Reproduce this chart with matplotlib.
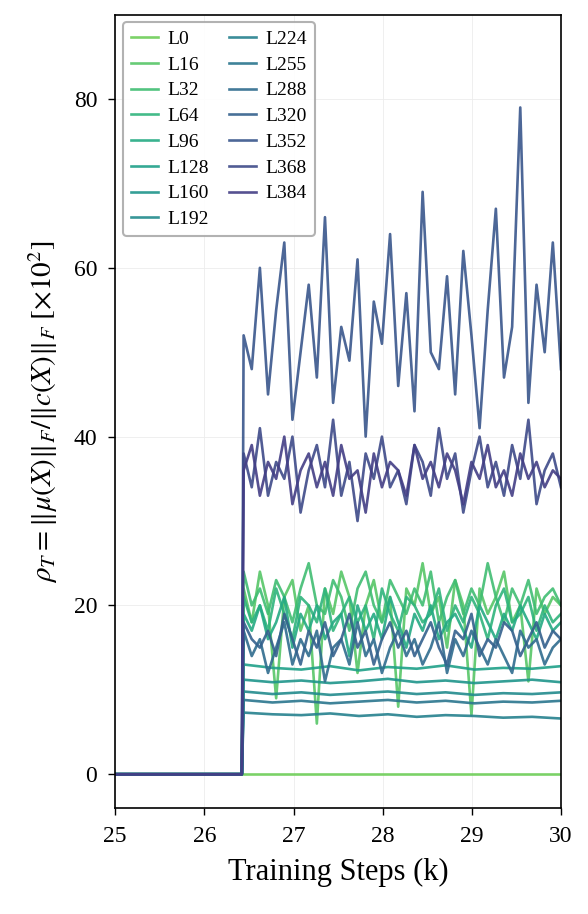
import numpy as np
import matplotlib
matplotlib.use("Agg")
import matplotlib.pyplot as plt

plt.rcParams['font.family'] = ['Liberation Serif', 'DejaVu Serif']
plt.rcParams['mathtext.fontset'] = 'stix'

step_x = 26.42
x_start = 25.0
x_end = 30.0

L0 = [0,0,0,0,0,0,0,0]
L16 = [22,18,24,20,9,21,23,17,20,6,22,19,24,21,12,20,23,18,21,8,22,20,25,19,21,15,23,20,7,22,19,21,24,18,20,11,22,19,21,20]
L32 = [24,20,22,19,23,21,18,22,25,20,19,23,21,17,22,24,20,18,23,21,19,22,20,24,18,21,23,19,22,20,25,21,18,22,20,23,19,21,22,20]
L64 = [21,18,20,17,22,19,16,21,20,18,22,17,19,21,18,20,16,22,19,17,21,20,18,19,22,17,20,18,21,19,16,20,22,18,19,21,17,20,18,19]
L96 = [19,17,20,16,18,21,15,19,17,20,16,18,19,14,20,17,19,16,21,18,15,19,17,20,16,18,19,17,15,20,18,16,19,17,20,18,16,19,17,18]
L128 = [13,12.6,12.4,12.8,12.3,12.7,12.5,12.9,12.4,12.6,12.5,12.8]
L160 = [11.2,10.9,11.1,10.8,11.0,11.3,10.9,11.1,10.8,11.0,11.2,10.9]
L192 = [9.8,9.5,9.7,9.4,9.6,9.8,9.5,9.7,9.4,9.6,9.5,9.7]
L224 = [7.3,7.1,7.0,7.2,6.9,7.1,6.8,7.0,6.9,6.7,6.8,6.6]
L255 = [8.8,8.5,8.7,8.4,8.6,8.8,8.5,8.7,8.4,8.6,8.5,8.7]
L288 = [17,14,16,12,15,18,13,16,14,17,11,15,16,13,18,14,16,12,15,17,14,16,13,15,18,12,16,14,17,15,13,16,14,12,17,15,16,13,15,16]
L320 = [18,16,15,17,14,19,16,13,17,15,18,14,16,19,15,17,13,16,18,15,17,14,16,18,15,13,17,16,19,14,16,15,18,17,14,16,18,15,17,16]
L352 = [52,48,60,45,55,63,42,50,58,47,66,44,53,49,61,40,56,51,64,46,57,43,69,50,48,59,45,62,52,41,55,67,47,53,79,44,58,50,63,48]
L368 = [38,34,41,33,37,35,40,31,36,39,34,42,33,37,30,38,35,40,34,36,32,39,37,33,41,35,38,31,36,40,34,37,33,39,35,42,32,36,38,34]
L384 = [36,39,33,37,35,40,32,36,38,34,37,33,39,35,36,31,38,34,37,36,33,39,35,37,34,38,36,32,37,35,39,34,36,33,38,35,37,34,36,35]

series = [L0,L16,L32,L64,L96,L128,L160,L192,L224,L255,L288,L320,L352,L368,L384]
labels_all = ["L0","L16","L32","L64","L96","L128","L160","L192","L224","L255","L288","L320","L352","L368","L384"]

fig = plt.figure(figsize=(5.88, 9.14), dpi=100)
ax = fig.add_axes([0.196, 0.116, 0.758, 0.868])
cmap = plt.get_cmap('viridis')
cols = [cmap(v) for v in np.linspace(0.78, 0.18, len(series))]
for vals, lab, c in zip(series, labels_all, cols):
    xp = np.linspace(step_x + 0.02, x_end, len(vals))
    xs = np.concatenate([[x_start, step_x], xp])
    ys = np.concatenate([[0, 0], vals])
    ax.plot(xs, ys, color=c, lw=1.9, alpha=0.9, label=lab)

ax.set_xlim(25, 30)
ax.set_ylim(-4, 90)
ax.set_yticks([0, 20, 40, 60, 80])
ax.grid(True, color='#ececec', lw=0.6)
ax.tick_params(labelsize=17, direction='out', length=5, width=1, pad=8)
for s in ax.spines.values():
    s.set_linewidth(1.2)
ax.set_xlabel('Training Steps (k)', fontsize=22, labelpad=8)
ax.set_ylabel(r'$\rho_T = \|\mu(X)\|_F / \|c(X)\|_F\ [\times 10^2]$', fontsize=21, labelpad=10)
leg = ax.legend(loc='upper left', ncol=2, fontsize=14, handlelength=1.4, columnspacing=1.0,
          labelspacing=0.42, framealpha=0.9, borderpad=0.4, handletextpad=0.5,
          borderaxespad=0.4, fancybox=True)
leg.get_frame().set_edgecolor('#aaaaaa')
leg.get_frame().set_linewidth(1.5)
fig.savefig('out.png', dpi=100)
